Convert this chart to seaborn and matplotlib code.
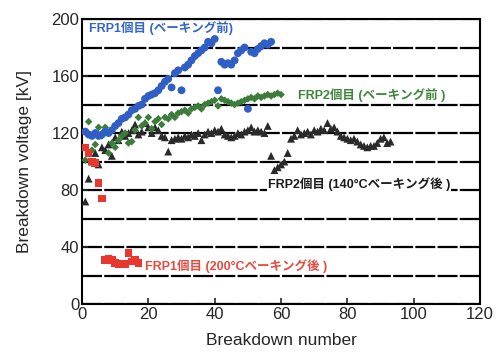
# Breakdown voltage vs breakdown number for FRP samples

import pandas as pd
import matplotlib
matplotlib.use("Agg")
import matplotlib.pyplot as plt
from matplotlib.ticker import MultipleLocator
import seaborn as sns


# Data

frp1_pre_y = [121, 119, 118, 120, 118, 119, 121, 120, 122, 125,
              127, 130, 131, 133, 136, 137, 139, 140, 144, 146,
              147, 148, 150, 153, 156, 158, 152, 162, 164, 150,
              166, 168, 171, 174, 176, 178, 180, 184, 183, 186,
              150, 170, 168, 169, 168, 171, 176, 178, 180, 137,
              177, 176, 179, 181, 183, 182, 184]

frp2_pre_y = [101, 128, 108, 112, 124, 118, 124, 106, 113, 110,
              115, 118, 120, 113, 114, 122, 131, 125, 127, 131,
              123, 128, 130, 126, 131, 130, 133, 131, 134, 135,
              136, 134, 137, 138, 139, 137, 140, 141, 142, 143,
              139, 144, 143, 142, 141, 140, 141, 142, 143, 144,
              145, 144, 146, 145, 146, 147, 146, 147, 148, 147]

frp2_140_y = [72, 88, 100, 106, 98, 110, 108, 112, 104, 117,
              115, 121, 118, 120, 122, 126, 119, 121, 127, 124,
              120, 124, 122, 118, 117, 107, 115, 116, 117, 116,
              118, 117, 119, 118, 120, 115, 119, 121, 120, 122,
              121, 123, 119, 118, 117, 118, 120, 119, 121, 122,
              124, 121, 122, 121, 120, 125, 104, 94, 96, 98,
              100, 106, 116, 118, 122, 119, 120, 121, 119, 122,
              121, 123, 122, 127, 123, 124, 121, 118, 117, 116,
              115, 116, 114, 112, 111, 110, 111, 111, 113, 116,
              117, 113, 114]

frp1_200_y = [110, 106, 100, 99, 85, 74,
              31, 32, 31, 29, 28, 28, 28, 36, 30, 31, 29]

x_ticks = [0, 20, 40, 60, 80, 100, 120]
y_ticks = [0, 40, 80, 120, 160, 200]


def series(values, name):
    return pd.DataFrame({
        "number": range(1, len(values) + 1),
        "voltage": values,
        "sample": name,
    })


s_frp1_pre = series(frp1_pre_y, "FRP1 pre")
s_frp2_pre = series(frp2_pre_y, "FRP2 pre")
s_frp2_140 = series(frp2_140_y, "FRP2 140C")
s_frp1_200 = series(frp1_200_y, "FRP1 200C")


# Plot

sns.set_style("ticks")
plt.rcParams["font.family"] = ["Liberation Sans", "Noto Sans CJK JP", "DejaVu Sans"]

fig = plt.figure(figsize=(4.97, 3.52), dpi=100)
ax = fig.add_axes([0.165, 0.136, 0.801, 0.81])

sns.scatterplot(data=s_frp2_140, x="number", y="voltage", marker="^",
                color="#2a2a2a", s=32, edgecolor="none", ax=ax, zorder=3)
sns.scatterplot(data=s_frp2_pre, x="number", y="voltage", marker="D",
                color="#3c7c3a", s=15, edgecolor="none", ax=ax, zorder=4)
sns.scatterplot(data=s_frp1_pre, x="number", y="voltage", marker="o",
                color="#2f5fc4", s=32, edgecolor="none", ax=ax, zorder=5)
sns.scatterplot(data=s_frp1_200, x="number", y="voltage", marker="s",
                color="#e8372f", s=30, edgecolor="none", ax=ax, zorder=5)

ax.set_xlim(0, 120)
ax.set_ylim(0, 200)
ax.set_xticks(x_ticks)
ax.set_yticks(y_ticks)
ax.yaxis.set_minor_locator(MultipleLocator(20))
ax.tick_params(axis="both", which="major", direction="in", length=4,
               width=1.2, labelsize=12, pad=2)
ax.tick_params(axis="y", which="minor", length=0)
ax.yaxis.grid(True, which="both", color="black", linewidth=1.6,
              linestyle=(0, (9, 1)), zorder=1)
ax.set_axisbelow(True)
for sp in ax.spines.values():
    sp.set_linewidth(1.5)
    sp.set_color("black")

ax.set_xlabel("Breakdown number", fontsize=12.5, labelpad=8)
ax.set_ylabel("Breakdown voltage [kV]", fontsize=12.5, labelpad=14)

# Labels
lab = dict(fontsize=9, fontweight="bold", va="center", ha="left")
ax.text(2, 194, "FRP1個目 (ベーキング前)", color="#3466c8", **lab)
ax.text(65, 147, "FRP2個目 (ベーキング前 )", color="#3f863c", **lab)
ax.text(56, 84, "FRP2個目 (140°Cベーキング後 )", color="#1a1a1a",
        bbox=dict(facecolor="white", edgecolor="none", pad=0.5), zorder=6, **lab)
ax.text(19, 27, "FRP1個目 (200°Cベーキング後 )", color="#e84a3f", **lab)

fig.savefig("out.png", dpi=100)
